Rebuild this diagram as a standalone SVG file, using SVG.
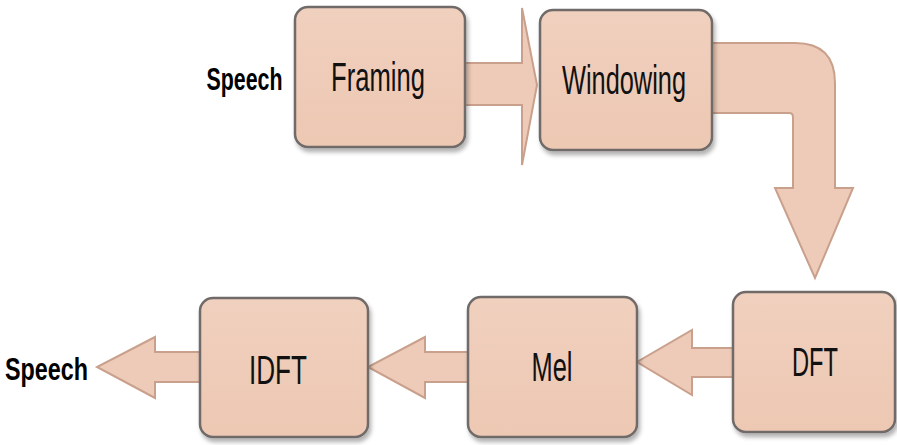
<svg xmlns="http://www.w3.org/2000/svg" width="897" height="445" viewBox="0 0 897 445">
<defs>
<linearGradient id="boxg" x1="0" y1="0" x2="0" y2="1">
<stop offset="0" stop-color="#F0D0BE"/>
<stop offset="1" stop-color="#EDC8B3"/>
</linearGradient>
<filter id="sh" x="-10%" y="-10%" width="130%" height="130%">
<feDropShadow dx="2" dy="4" stdDeviation="2" flood-color="#000" flood-opacity="0.3"/>
</filter>
<style>
.box{fill:url(#boxg);stroke:#6f6a68;stroke-width:2.5;filter:url(#sh)}
.arr{fill:#EDCBB8;stroke:#C9A08C;stroke-width:2;stroke-linejoin:miter}
.lbl{font-family:"Liberation Sans",Arial,sans-serif;font-size:40px;fill:#111;text-anchor:middle}
.sp{font-family:"Liberation Sans",Arial,sans-serif;font-size:32px;font-weight:bold;fill:#000;text-anchor:middle}
</style>
</defs>
<g id="connectors">
<path class="arr" d="M460,63 L522,63 L522,8 L537,85 L522,165 L522,105 L460,105 Z"/>
<path class="arr" d="M705,43 L795,43 Q835,43 835,83 L835,188 L853,188 L815,278 L775,188 L793,188 L793,117 Q793,113 789,113 L705,113 Z"/>
<path class="arr" d="M740,348 L692,348 L692,330 L637,362 L692,395 L692,377 L740,377 Z"/>
<path class="arr" d="M475,352 L425,352 L425,337 L368,367 L425,398 L425,382 L475,382 Z"/>
<path class="arr" d="M205,352 L155,352 L155,337 L97,367 L155,398 L155,382 L205,382 Z"/>
</g>
<g id="speech-in"><text class="sp" x="244.5" y="90" textLength="76" lengthAdjust="spacingAndGlyphs">Speech</text></g>
<g id="framing">
<rect class="box" x="295" y="7" width="170" height="140" rx="13"/>
<text class="lbl" x="378" y="91" textLength="94" lengthAdjust="spacingAndGlyphs">Framing</text>
</g>
<g id="windowing">
<rect class="box" x="540" y="10" width="172" height="140" rx="13"/>
<text class="lbl" x="624" y="94" textLength="124" lengthAdjust="spacingAndGlyphs">Windowing</text>
</g>
<g id="dft">
<rect class="box" x="733" y="292" width="162" height="140" rx="13"/>
<text class="lbl" x="815" y="376" font-size="37" textLength="46" lengthAdjust="spacingAndGlyphs">DFT</text>
</g>
<g id="mel">
<rect class="box" x="468" y="297" width="169" height="140" rx="13"/>
<text class="lbl" x="552" y="381" font-size="37" textLength="41" lengthAdjust="spacingAndGlyphs">Mel</text>
</g>
<g id="idft">
<rect class="box" x="200" y="298" width="168" height="139" rx="13"/>
<text class="lbl" x="278" y="384" font-size="38" textLength="58" lengthAdjust="spacingAndGlyphs">IDFT</text>
</g>
<g id="speech-out"><text class="sp" x="46.5" y="380" textLength="83" lengthAdjust="spacingAndGlyphs">Speech</text></g>
</svg>
